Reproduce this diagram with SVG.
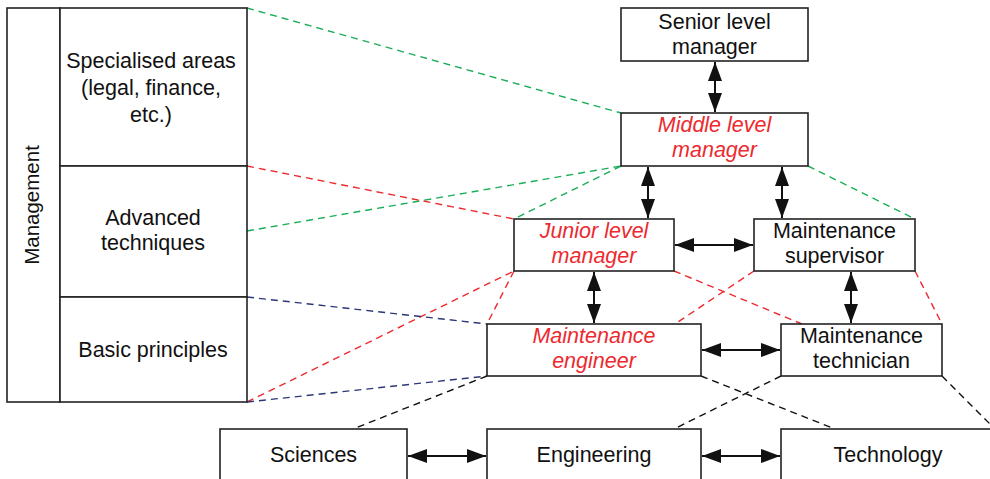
<svg xmlns="http://www.w3.org/2000/svg" width="990" height="479" viewBox="0 0 990 479">
  <style>
    .box { fill: #ffffff; stroke: #222222; stroke-width: 1.6; }
    .txt { font-family: "Liberation Sans", Arial, Helvetica, sans-serif; font-size: 21.5px; fill: #111111; text-anchor: middle; }
    .red { fill: #ec2a2f; font-style: italic; }
    .dash { fill: none; stroke-width: 1.4; stroke-dasharray: 7 5; }
    .g { stroke: #1aae57; }
    .r { stroke: #ec2a2f; }
    .b { stroke: #2b3875; }
    .k { stroke: #111111; }
    .arr { stroke: #111111; stroke-width: 2; marker-start: url(#head); marker-end: url(#head); }
  </style>
  <defs>
    <marker id="head" viewBox="0 0 19 14" markerWidth="19" markerHeight="14" refX="19" refY="7" markerUnits="userSpaceOnUse" orient="auto-start-reverse">
      <path d="M0,0 L19,7 L0,14 z" fill="#111111"/>
    </marker>
  </defs>

  <!-- dashed correspondence lines between the syllabus table and the roles -->
  <g id="connectors">
    <line class="dash g" x1="247" y1="8" x2="621" y2="113"/>
    <line class="dash g" x1="247" y1="231" x2="621" y2="166"/>
    <line class="dash g" x1="621" y1="166" x2="514" y2="219"/>
    <line class="dash g" x1="808" y1="166" x2="915" y2="219"/>

    <line class="dash r" x1="247" y1="166" x2="514" y2="219"/>
    <line class="dash r" x1="247" y1="402" x2="514" y2="271"/>
    <line class="dash r" x1="514" y1="271" x2="487" y2="324"/>
    <line class="dash r" x1="674" y1="271" x2="802" y2="324"/>
    <line class="dash r" x1="754" y1="271" x2="675" y2="324"/>
    <line class="dash r" x1="915" y1="271" x2="942" y2="324"/>

    <line class="dash b" x1="247" y1="297" x2="487" y2="324"/>
    <line class="dash b" x1="247" y1="402" x2="487" y2="376"/>

    <line class="dash k" x1="487" y1="376" x2="353" y2="429"/>
    <line class="dash k" x1="701" y1="376" x2="835" y2="429"/>
    <line class="dash k" x1="781" y1="376" x2="674" y2="429"/>
    <line class="dash k" x1="942" y1="376" x2="995" y2="429"/>

    <!-- two-way links between roles -->
    <line class="arr" x1="715" y1="62" x2="715" y2="112"/>
    <line class="arr" x1="648" y1="167" x2="648" y2="218"/>
    <line class="arr" x1="782" y1="167" x2="782" y2="218"/>
    <line class="arr" x1="675" y1="245" x2="753" y2="245"/>
    <line class="arr" x1="594" y1="272" x2="594" y2="323"/>
    <line class="arr" x1="851" y1="272" x2="851" y2="323"/>
    <line class="arr" x1="702" y1="350" x2="780" y2="350"/>
    <line class="arr" x1="408" y1="456" x2="486" y2="456"/>
    <line class="arr" x1="702" y1="456" x2="780" y2="456"/>
  </g>

  <!-- syllabus table -->
  <g id="management">
    <rect class="box" x="7" y="8" width="53" height="394"/>
    <text class="txt" transform="translate(39,205) rotate(-90)" style="font-size:20.5px">Management</text>
  </g>
  <g id="specialised">
    <rect class="box" x="60" y="8" width="187" height="158"/>
    <text class="txt" x="151" y="68">Specialised areas</text>
    <text class="txt" x="151" y="95">(legal, finance,</text>
    <text class="txt" x="151" y="122">etc.)</text>
  </g>
  <g id="advanced">
    <rect class="box" x="60" y="166" width="187" height="131"/>
    <text class="txt" x="153" y="225">Advanced</text>
    <text class="txt" x="153" y="250">techniques</text>
  </g>
  <g id="basic">
    <rect class="box" x="60" y="297" width="187" height="105"/>
    <text class="txt" x="153" y="357">Basic principles</text>
  </g>

  <!-- roles -->
  <g id="senior">
    <rect class="box" x="621" y="8" width="187" height="53"/>
    <text class="txt" x="714.5" y="29">Senior level</text>
    <text class="txt" x="714.5" y="54">manager</text>
  </g>
  <g id="middle">
    <rect class="box" x="621" y="113" width="187" height="53"/>
    <text class="txt red" x="714.5" y="132">Middle level</text>
    <text class="txt red" x="714.5" y="157">manager</text>
  </g>
  <g id="junior">
    <rect class="box" x="514" y="219" width="160" height="52"/>
    <text class="txt red" x="594" y="238">Junior level</text>
    <text class="txt red" x="594" y="263">manager</text>
  </g>
  <g id="supervisor">
    <rect class="box" x="754" y="219" width="161" height="52"/>
    <text class="txt" x="834.5" y="238">Maintenance</text>
    <text class="txt" x="834.5" y="263">supervisor</text>
  </g>
  <g id="engineer">
    <rect class="box" x="487" y="324" width="214" height="52"/>
    <text class="txt red" x="594" y="343">Maintenance</text>
    <text class="txt red" x="594" y="368">engineer</text>
  </g>
  <g id="technician">
    <rect class="box" x="781" y="324" width="161" height="52"/>
    <text class="txt" x="861.5" y="343">Maintenance</text>
    <text class="txt" x="861.5" y="368">technician</text>
  </g>

  <!-- foundation subjects -->
  <g id="sciences">
    <rect class="box" x="220" y="429" width="187" height="60"/>
    <text class="txt" x="313.5" y="462">Sciences</text>
  </g>
  <g id="engineering">
    <rect class="box" x="487" y="429" width="214" height="60"/>
    <text class="txt" x="594" y="462">Engineering</text>
  </g>
  <g id="technology">
    <rect class="box" x="781" y="429" width="220" height="60"/>
    <text class="txt" x="888" y="462">Technology</text>
  </g>
</svg>
